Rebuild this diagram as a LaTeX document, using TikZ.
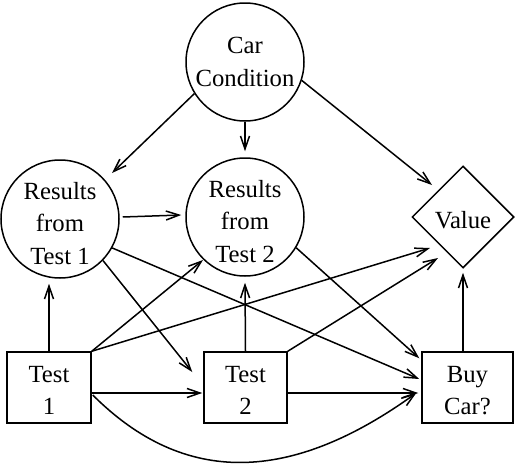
\documentclass[tikz,border=0pt]{standalone}
\usepackage{fontspec}
\setmainfont{Liberation Serif}
\usetikzlibrary{shapes.geometric,arrows.meta}
\newcommand\mystrut{\rule{0pt}{25.5pt}}
\begin{document}
\begin{tikzpicture}[x=1pt,y=-1pt,
  every node/.style={font=\fontsize{24.7}{32.5}\selectfont},
  circ/.style={circle,draw,line width=1.5pt,minimum size=118pt,inner sep=0pt,align=center},
  boxnode/.style={rectangle,draw,line width=1.5pt,minimum height=71pt,inner sep=2pt,align=center},
  dia/.style={diamond,draw,line width=1.5pt,minimum width=102pt,minimum height=102pt,inner sep=0pt},
  arr/.style={line width=1.5pt,-{Straight Barb[length=13pt,width=9pt]}}]
\useasboundingbox (0,0) rectangle (516,466);
\node[circ] (car) at (245,62) {Car\\Condition};
\node[circ] (r1) at (60,219) {\mystrut Results\\from\\Test 1};
\node[circ] (r2) at (245,217) {\mystrut Results\\from\\Test 2};
\node[dia] (val) at (463,217) {\rule{0pt}{23pt}Value};
\node[boxnode,minimum width=84pt] (t1) at (49,387.5) {\rule{0pt}{22pt}Test\\1};
\node[boxnode,minimum width=83pt] (t2) at (245.5,387.5) {\rule{0pt}{22pt}Test\\2};
\node[boxnode,minimum width=91pt] (buy) at (467.5,387.5) {\rule{0pt}{22pt}Buy\\Car?};
% from Car Condition
\draw[arr] (car.212.4) -- ([shift={(52,-46)}]r1.center);
\draw[arr] (car.south) -- ([shift={(0,-6)}]r2.north);
\draw[arr] (car.-18.4) -- ([shift={(-31,-32)}]val.center);
% from Results from Test 1
\draw[arr] ([shift={(3,-2)}]r1.east) -- ([shift={(-4,-2)}]r2.west);
\draw[arr] (r1.-44) -- ([shift={(-11,-15.5)}]t2.west);
\draw[arr] (r1.-29) -- ([shift={(-2,-8.5)}]buy.west);
% from Results from Test 2
\draw[arr] (r2.-31) -- ([shift={(-2,7)}]buy.north west);
% from Test 1
\draw[arr] (t1.north) -- ([shift={(-11,5)}]r1.south);
\draw[arr] (t1.north east) -- ([shift={(-42,43)}]r2.center);
\draw[arr] (t1.north east) -- ([shift={(-33,31)}]val.center);
\draw[arr] ([shift={(0,5.5)}]t1.east) -- ([shift={(-1,5.5)}]t2.west);
\draw[arr] ([shift={(1,7.5)}]t1.east) .. controls +(92,92) and +(-125,90) .. ([shift={(-5,5.5)}]buy.west);
% from Test 2
\draw[arr] (t2.north) -- ([shift={(0,6)}]r2.south);
\draw[arr] (t2.north east) -- ([shift={(-25,41)}]val.center);
\draw[arr] ([shift={(0,5.5)}]t2.east) -- ([shift={(-3,5.5)}]buy.west);
% from Buy Car?
\draw[arr] ([shift={(-4.5,0)}]buy.north) -- ([shift={(0,4)}]val.south);
\end{tikzpicture}
\end{document}
